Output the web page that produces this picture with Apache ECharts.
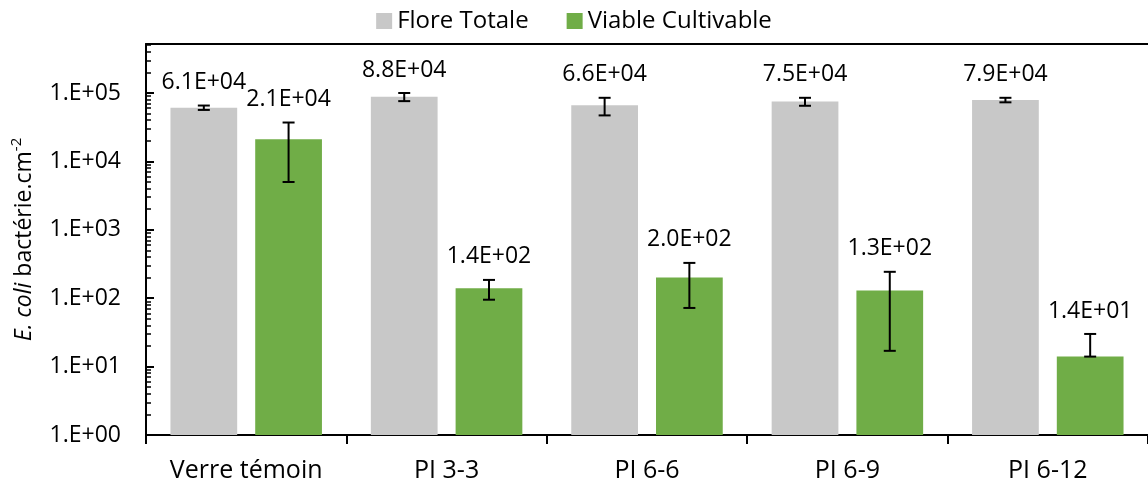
<!DOCTYPE html>
<html>
<head>
<meta charset="utf-8">
<script src="https://cdn.jsdelivr.net/npm/echarts@6/dist/echarts.min.js"></script>
<style>
html,body{margin:0;padding:0;background:#fff;}
#chart{width:1148px;height:486px;}
</style>
</head>
<body>
<div id="chart"></div>
<script>
const categories = ['Verre témoin', 'PI 3-3', 'PI 6-6', 'PI 6-9', 'PI 6-12'];
const floreTotale = [61000, 88000, 66000, 75000, 79000];
const viableCultivable = [21000, 140, 200, 130, 14];
const floreTotaleErr = [4500, 12000, 19000, 10000, 6000];
const viableCultivableErr = [16000, 45, 128, 113, 16];
const yMajorTicks = [1, 10, 100, 1000, 10000, 100000];
const yMinorMultipliers = [2, 3, 4, 5, 6, 7, 8, 9];

const FONT = '"Open Sans"';
const BAR_FR = 0.333;
const GAP_FR = 0.27;
const Y_MAX = 520000;

const yMinorTicks = [];
yMajorTicks.forEach(m => yMinorMultipliers.forEach(k => { if (m * k <= Y_MAX) yMinorTicks.push(m * k); }));

function fmtSci(v) {
  const e = Math.floor(Math.log10(v));
  const m = v / Math.pow(10, e);
  const sign = e < 0 ? '-' : '+';
  const ae = Math.abs(e);
  return m.toFixed(1) + 'E' + sign + (ae < 10 ? '0' : '') + ae;
}

function errorSeries(vals, errs, side) {
  return {
    type: 'custom',
    z: 10,
    silent: true,
    data: vals.map((v, i) => [i, v, errs[i]]),
    renderItem: function (params, api) {
      const xi = api.value(0), v = api.value(1), e = api.value(2);
      const base = api.coord([xi, v]);
      const band = api.size([1, 0])[0];
      const barW = band * BAR_FR;
      const cx = base[0] + side * barW * (1 + GAP_FR) / 2;
      const hi = api.coord([xi, v + e])[1];
      const lo = (v - e > 0) ? api.coord([xi, v - e])[1] : base[1];
      const cap = 6;
      const ls = { stroke: '#000', lineWidth: 2 };
      return {
        type: 'group',
        children: [
          { type: 'line', shape: { x1: cx, y1: hi, x2: cx, y2: lo }, style: ls },
          { type: 'line', shape: { x1: cx - cap, y1: hi, x2: cx + cap, y2: hi }, style: ls },
          { type: 'line', shape: { x1: cx - cap, y1: lo, x2: cx + cap, y2: lo }, style: ls },
          { type: 'text', style: { text: fmtSci(v), x: cx, y: hi - 23, align: 'center', verticalAlign: 'middle', fill: '#000', fontSize: 23, fontFamily: FONT } }
        ]
      };
    }
  };
}

const chart = echarts.init(document.getElementById('chart'), null, { renderer: 'canvas' });
chart.setOption({
  animation: false,
  backgroundColor: '#fff',
  textStyle: { fontFamily: FONT, color: '#000' },
  legend: {
    data: ['Flore Totale', 'Viable Cultivable'],
    top: 4,
    left: 'center',
    icon: 'rect',
    itemWidth: 16,
    itemHeight: 16,
    itemGap: 38,
    textStyle: { fontSize: 24, fontFamily: FONT, color: '#000' }
  },
  grid: { left: 146, right: -3, top: 44, bottom: 51, containLabel: false },
  xAxis: [
    {
      type: 'category',
      data: categories,
      axisLine: { lineStyle: { color: '#000', width: 2 } },
      axisTick: { show: true, length: 9, lineStyle: { color: '#000', width: 2 } },
      axisLabel: { fontSize: 25, color: '#000', margin: 23, fontFamily: FONT }
    },
    {
      type: 'category',
      data: categories,
      position: 'top',
      axisLine: { lineStyle: { color: '#000', width: 2 } },
      axisTick: { show: false },
      axisLabel: { show: false }
    }
  ],
  yAxis: [
    {
      type: 'log',
      logBase: 10,
      min: 1,
      max: Y_MAX,
      axisLine: { show: true, lineStyle: { color: '#000', width: 2 } },
      axisTick: { show: true, inside: true, length: 8, customValues: yMajorTicks, lineStyle: { color: '#000', width: 2 } },
      axisLabel: { customValues: yMajorTicks, fontSize: 23, color: '#000', margin: 25, fontFamily: FONT,
        formatter: v => '1.E+' + String(Math.round(Math.log10(v))).padStart(2, '0') },
      splitLine: { show: false },
      name: '{i|E. coli}{n| bactérie.cm}{s|-2}',
      nameLocation: 'middle',
      nameRotate: 90,
      nameGap: 107,
      nameTextStyle: {
        rich: {
          i: { fontSize: 23, fontStyle: 'italic', fontFamily: FONT, color: '#000', lineHeight: 30 },
          n: { fontSize: 23, fontFamily: FONT, color: '#000', lineHeight: 30 },
          s: { fontSize: 15, fontFamily: FONT, color: '#000', verticalAlign: 'top', lineHeight: 30 }
        }
      }
    },
    {
      type: 'log',
      logBase: 10,
      min: 1,
      max: Y_MAX,
      position: 'left',
      axisLine: { show: false },
      axisTick: { show: true, inside: true, length: 5, customValues: yMinorTicks, lineStyle: { color: '#000', width: 1.5 } },
      axisLabel: { show: false },
      splitLine: { show: false }
    }
  ],
  series: [
    {
      name: 'Flore Totale',
      type: 'bar',
      data: floreTotale,
      barWidth: (BAR_FR * 100) + '%',
      barGap: (GAP_FR * 100) + '%',
      itemStyle: { color: '#C8C8C8' }
    },
    {
      name: 'Viable Cultivable',
      type: 'bar',
      data: viableCultivable,
      barWidth: (BAR_FR * 100) + '%',
      barGap: (GAP_FR * 100) + '%',
      itemStyle: { color: '#70AD47' }
    },
    errorSeries(floreTotale, floreTotaleErr, -1),
    errorSeries(viableCultivable, viableCultivableErr, 1)
  ]
});
</script>
</body>
</html>
